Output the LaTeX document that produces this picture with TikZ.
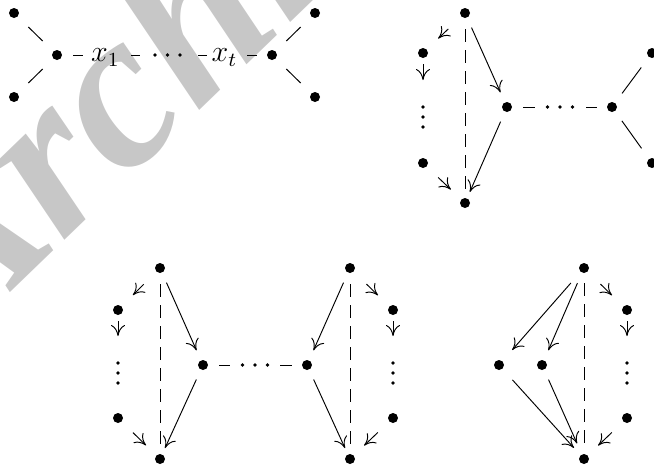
\documentclass[tikz,border=0pt]{standalone}
\usepackage{fontspec}
\newfontfamily\wmfont{Liberation Serif}
\usetikzlibrary{arrows.meta}
\newcommand\hdts[1]{\fill (#1) ++(-12.5,0) circle (0.75pt) (#1) circle (0.75pt) (#1) ++(12.5,0) circle (0.75pt);}
\newcommand\vdts[1]{\fill (#1) ++(0,-10) circle (0.75pt) (#1) circle (0.75pt) (#1) ++(0,10) circle (0.75pt);}
\begin{document}
\begin{tikzpicture}[x=0.4pt,y=-0.4pt,
  dot/.style={circle,fill=black,inner sep=0pt,minimum size=4pt},
  edge/.style={line width=0.38pt},
  arr/.style={edge,-{Computer Modern Rightarrow[length=4.4pt,width=5.6pt]}},
  dsh/.style={edge,dash pattern=on 5pt off 3.4pt},
  lab/.style={inner sep=0pt,text height=5.2pt,text depth=0pt,font=\fontsize{12}{14}\selectfont},
  wm/.style={text=black!22,font=\wmfont\bfseries\itshape\fontsize{90}{90}\selectfont,inner sep=0pt}]
\clip (0,0) rectangle (654,468);
% watermark
\node[wm,anchor=base west,rotate=44] (wmark) at (-47,348) {Archive};
% ---------- panel 1
\node[dot] (a1) at (14,13) {};
\node[dot] (a2) at (14,97) {};
\node[dot] (a3) at (57,55) {};
\node[lab] (x1) at (105.5,55) {$x_1$};
\coordinate (c1) at (167.5,55);
\node[lab] (xt) at (224.5,55) {$x_t$};
\node[dot] (a4) at (272,55) {};
\node[dot] (a5) at (315,13) {};
\node[dot] (a6) at (315,97) {};
\hdts{c1}
\draw[edge,shorten <=8pt,shorten >=8pt] (a3.center) -- (a1.center);
\draw[edge,shorten <=8pt,shorten >=8pt] (a3.center) -- (a2.center);
\draw[edge,shorten <=6.4pt,shorten >=9pt] (a3.center) -- (x1.center);
\draw[edge,shorten <=10.2pt,shorten >=11pt] (x1.center) -- (c1);
\draw[edge,shorten <=12.2pt,shorten >=7pt] (c1) -- (xt.center);
\draw[edge,shorten <=9pt,shorten >=6pt] (xt.center) -- (a4.center);
\draw[edge,shorten <=8pt,shorten >=8pt] (a4.center) -- (a5.center);
\draw[edge,shorten <=8pt,shorten >=8pt] (a4.center) -- (a6.center);
% ---------- panel 2
\node[dot] (T2) at (465,13) {};
\node[dot] (LU2) at (423,53) {};
\coordinate (V2) at (423,117);
\node[dot] (LL2) at (423,163) {};
\node[dot] (B2) at (465,203) {};
\node[dot] (C2) at (507,107) {};
\coordinate (G2) at (560,107);
\node[dot] (D2) at (612,107) {};
\node[dot] (E2) at (652,53) {};
\node[dot] (F2) at (652,163) {};
\vdts{V2}
\hdts{G2}
\draw[arr,shorten <=9.2pt,shorten >=8.4pt] (T2.center) -- (LU2.center);
\draw[arr,shorten <=4.4pt,shorten >=14.8pt] (LU2.center) -- (V2);
\draw[arr,shorten <=8.4pt,shorten >=7.8pt] (LL2.center) -- (B2.center);
\draw[arr,shorten <=6.4pt,shorten >=6.4pt] (T2.center) -- (C2.center);
\draw[arr,shorten <=6.4pt,shorten >=4.8pt] (C2.center) -- (B2.center);
\draw[dsh,shorten <=6.4pt,shorten >=5.2pt] (T2.center) -- (B2.center);
\draw[edge,shorten <=6.4pt,shorten >=10pt] (C2.center) -- (G2);
\draw[edge,shorten <=10.4pt,shorten >=6pt] (G2) -- (D2.center);
\draw[edge,shorten <=6.8pt,shorten >=7.2pt] (D2.center) -- (E2.center);
\draw[edge,shorten <=6.8pt,shorten >=7.2pt] (D2.center) -- (F2.center);
% ---------- panel 3
\node[dot] (T3) at (160,268) {};
\node[dot] (LU3) at (118,310) {};
\coordinate (V3) at (118,373);
\node[dot] (LL3) at (118,418) {};
\node[dot] (B3) at (160,459) {};
\node[dot] (C3) at (203,365) {};
\coordinate (G3) at (255,365);
\node[dot] (D3) at (307,365) {};
\node[dot] (T3r) at (350,268) {};
\node[dot] (RU3) at (393,310) {};
\coordinate (V3r) at (393,373);
\node[dot] (RL3) at (393,418) {};
\node[dot] (B3r) at (350,459) {};
\vdts{V3}
\vdts{V3r}
\hdts{G3}
\draw[arr,shorten <=9.2pt,shorten >=8.4pt] (T3.center) -- (LU3.center);
\draw[arr,shorten <=4.4pt,shorten >=14.8pt] (LU3.center) -- (V3);
\draw[arr,shorten <=8.4pt,shorten >=7.8pt] (LL3.center) -- (B3.center);
\draw[arr,shorten <=6.4pt,shorten >=6.4pt] (T3.center) -- (C3.center);
\draw[arr,shorten <=6.4pt,shorten >=4.8pt] (C3.center) -- (B3.center);
\draw[dsh,shorten <=6.4pt,shorten >=5.2pt] (T3.center) -- (B3.center);
\draw[edge,shorten <=6.4pt,shorten >=10pt] (C3.center) -- (G3);
\draw[edge,shorten <=10pt,shorten >=6pt] (G3) -- (D3.center);
\draw[arr,shorten <=9.2pt,shorten >=8.4pt] (T3r.center) -- (RU3.center);
\draw[arr,shorten <=4.4pt,shorten >=14.8pt] (RU3.center) -- (V3r);
\draw[arr,shorten <=8.4pt,shorten >=7.8pt] (RL3.center) -- (B3r.center);
\draw[arr,shorten <=6.4pt,shorten >=6.4pt] (T3r.center) -- (D3.center);
\draw[arr,shorten <=6.4pt,shorten >=4.8pt] (D3.center) -- (B3r.center);
\draw[dsh,shorten <=6.4pt,shorten >=5.2pt] (T3r.center) -- (B3r.center);
% ---------- panel 4
\node[dot] (T4) at (584,268) {};
\node[dot] (RU4) at (627,310) {};
\coordinate (V4) at (627,373);
\node[dot] (RL4) at (627,418) {};
\node[dot] (B4) at (584,459) {};
\node[dot] (P4) at (499,365) {};
\node[dot] (Q4) at (542,365) {};
\vdts{V4}
\draw[arr,shorten <=9.2pt,shorten >=8.4pt] (T4.center) -- (RU4.center);
\draw[arr,shorten <=4.4pt,shorten >=14.8pt] (RU4.center) -- (V4);
\draw[arr,shorten <=8.4pt,shorten >=7.8pt] (RL4.center) -- (B4.center);
\draw[arr,shorten <=8pt,shorten >=8pt] (T4.center) -- (P4.center);
\draw[arr,shorten <=6.6pt,shorten >=6.4pt] (T4.center) -- (Q4.center);
\draw[arr,shorten <=8pt,shorten >=6pt] (P4.center) -- (B4.center);
\draw[arr,shorten <=6.4pt,shorten >=6.8pt] (Q4.center) -- (B4.center);
\draw[dsh,shorten <=6pt,shorten >=5.6pt] (T4.center) -- (B4.center);
\end{tikzpicture}
\end{document}
